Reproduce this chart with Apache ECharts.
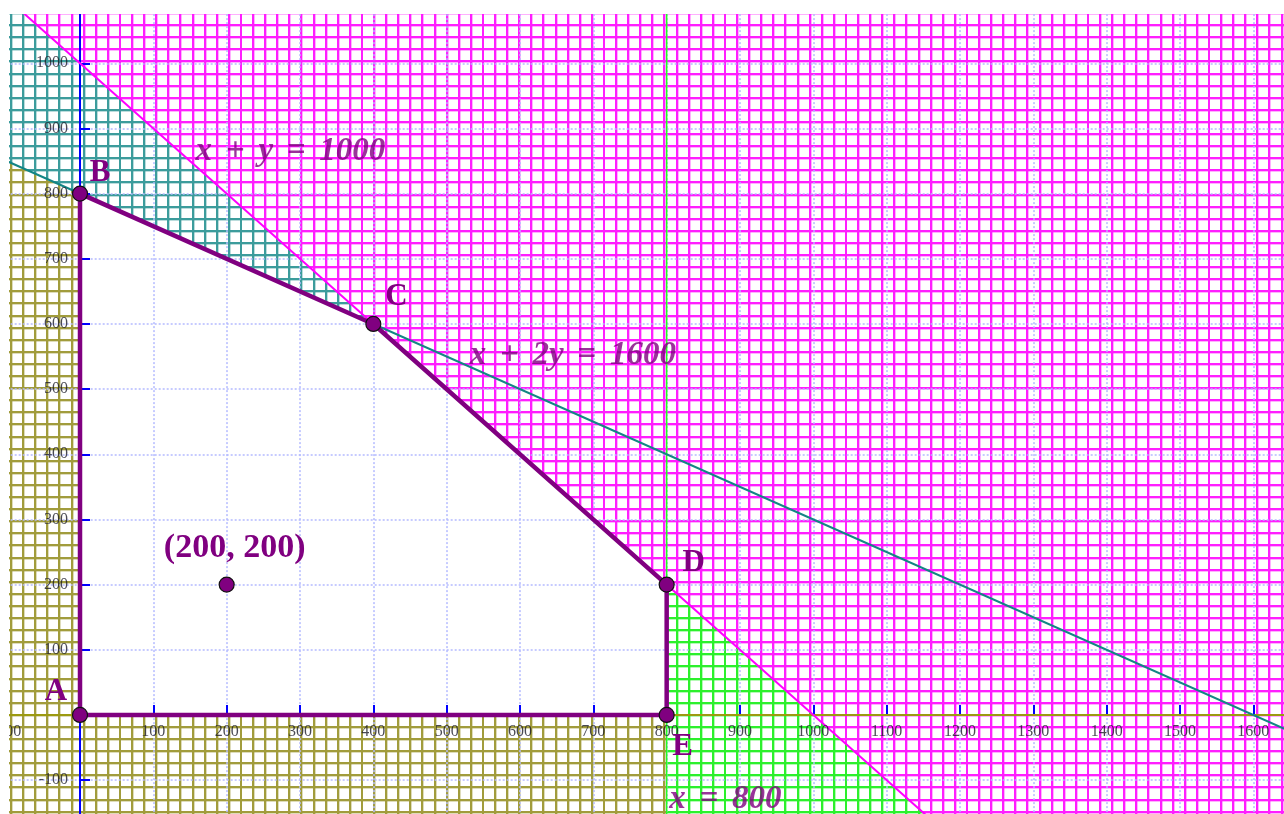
<!DOCTYPE html>
<html>
<head>
<meta charset="utf-8">
<title>Feasible region</title>
<script src="https://cdn.jsdelivr.net/npm/echarts/dist/echarts.min.js"></script>
<style>
  html, body { margin: 0; padding: 0; background: #fff; }
  #chart { width: 1284px; height: 814px; }
</style>
</head>
<body>
<div id="chart"></div>
<script>
  // tick labels shown on the axes (0 is left out, like the original)
  const xTicks = [-100, 100, 200, 300, 400, 500, 600, 700, 800, 900, 1000, 1100, 1200, 1300, 1400, 1500, 1600];
  const yTicks = [-100, 100, 200, 300, 400, 500, 600, 700, 800, 900, 1000];

  // corners of the feasible region
  const vertexNames = ['A', 'B', 'C', 'D', 'E'];
  const vertices = [[0, 0], [0, 800], [400, 600], [800, 200], [800, 0]];
  const testPoint = [200, 200];

  // constraint lines (two end points each)
  const lineXY1000 = [[-100, 1100], [1200, -200]];   // x + y = 1000
  const lineX2Y1600 = [[-100, 850], [1700, -50]];    // x + 2y = 1600
  const lineX800 = [[800, -200], [800, 1100]];       // x = 800
  const lineY0 = [[-100, 0], [1700, 0]];             // y = 0

  // shaded (not allowed) half planes
  const regionOlive = [[-100, -200], [1700, -200], [1700, 0], [0, 0], [0, 1100], [-100, 1100]]; // x < 0 or y < 0
  const regionTeal = [[-100, 850], [1700, -50], [1700, 1100], [-100, 1100]];                    // x + 2y > 1600
  const regionGreen = [[800, -200], [1700, -200], [1700, 1100], [800, 1100]];                   // x > 800
  const regionPink = [[-100, 1100], [1700, 1100], [1700, -200], [1200, -200]];                  // x + y > 1000

  const equationNames = ['x + y = 1000', 'x + 2y = 1600', 'x = 800'];

  // ---- styling / placement ----
  const purple = '#800080';
  const labelAnchors = [[287, 864], [672, 551], [880, -129]];
  const vertexLabelOffsets = [[-24, -23], [20, -21], [23, -27], [27, -22], [16, 32]];
  const testLabelOffset = [8, -36];
  // a little wider gaps between the terms of the equations
  const gap = ' \u2006';

  // cross hatch tile, 12.1px pitch, white background
  const hatch = (color) => {
    const c = document.createElement('canvas');
    c.width = 121;
    c.height = 121;
    const g = c.getContext('2d');
    g.fillStyle = '#fff';
    g.fillRect(0, 0, 121, 121);
    for (let k = 0; k < 10; k++) {
      const p = Math.round(12.1 * k);
      const vx = (p + 10) % 121;
      const hy = (p + 12) % 121;
      g.fillStyle = color;
      g.fillRect(vx, 0, 2, 121);
      g.fillRect(0, hy, 121, 2);
      g.globalAlpha = 0.35;
      g.fillRect(vx + 2, 0, 1, 121);
      g.fillRect(0, hy + 2, 121, 1);
      g.globalAlpha = 1;
    }
    return { image: c, repeat: 'repeat' };
  };

  const regions = [
    { pts: regionOlive, fill: hatch('#a19c3c') },
    { pts: regionTeal, fill: hatch('#3c9c9c') },
    { pts: regionGreen, fill: hatch('#2cf02c') },
    { pts: regionPink, fill: hatch('#ff1eff') }
  ];

  const thinLine = (name, data, color, width) => ({
    name: name,
    type: 'line',
    data: data,
    symbol: 'none',
    silent: true,
    z: 3,
    lineStyle: { color: color, width: width },
    animation: false
  });

  const chart = echarts.init(document.getElementById('chart'), null, { renderer: 'canvas' });

  const serif = 'Liberation Serif, Times New Roman, serif';
  const tickFont = { color: '#1c1c28', fontFamily: serif, fontSize: 16 };

  chart.setOption({
    backgroundColor: '#fff',
    animation: false,
    grid: {
      left: 6.67,
      top: -1.9,
      width: 1320,
      height: 847.2,
      containLabel: false,
      outerBoundsMode: 'none'
    },
    xAxis: {
      type: 'value',
      min: -100,
      max: 1700,
      interval: 100,
      axisLine: { onZero: true, lineStyle: { color: '#999900', width: 2 } },
      axisTick: { show: true, inside: true, length: 10, lineStyle: { color: '#0000ff', width: 2 } },
      axisLabel: { show: false },
      splitLine: { show: true, lineStyle: { color: '#b4bbff', width: 1.5, type: [2, 2] } }
    },
    yAxis: {
      type: 'value',
      min: -200,
      max: 1100,
      interval: 100,
      axisLine: { onZero: true, lineStyle: { color: '#0000ff', width: 2 } },
      axisTick: { show: true, inside: true, length: 10, lineStyle: { color: '#0000ff', width: 2 } },
      axisLabel: { show: false },
      splitLine: { show: true, lineStyle: { color: '#b4bbff', width: 1.5, type: [2, 2] } }
    },
    graphic: [
      // white page margins round the plot
      { type: 'rect', z: 100, shape: { x: 0, y: 0, width: 1284, height: 14 }, style: { fill: '#fff' } },
      { type: 'rect', z: 100, shape: { x: 0, y: 0, width: 9, height: 814 }, style: { fill: '#fff' } }
    ],
    series: [
      {
        name: 'shading',
        type: 'custom',
        z: -1,
        silent: true,
        data: regions.map((r, i) => [i]),
        encode: { x: 0 },
        renderItem: (params, api) => {
          const reg = regions[params.dataIndex];
          return {
            type: 'polygon',
            z2: params.dataIndex,
            shape: { points: reg.pts.map((p) => api.coord(p)) },
            style: { fill: reg.fill, stroke: null }
          };
        }
      },
      thinLine('y = 0', lineY0, '#9c9a10', 2),
      thinLine('x = 800', lineX800, '#22ff22', 1.5),
      thinLine('x + 2y = 1600', lineX2Y1600, '#138585', 2),
      thinLine('x + y = 1000', lineXY1000, '#ff00ff', 2),
      // tick labels sit next to the axes through the origin
      {
        name: 'xTickLabels',
        type: 'scatter',
        z: 4,
        silent: true,
        symbolSize: 0,
        label: Object.assign({ show: true, position: 'inside', offset: [0, 17], formatter: (p) => String(p.value[0]) }, tickFont),
        data: xTicks.map((v) => [v, 0])
      },
      {
        name: 'yTickLabels',
        type: 'scatter',
        z: 4,
        silent: true,
        symbolSize: 0,
        label: Object.assign({ show: true, position: 'left', distance: 12, formatter: (p) => String(p.value[1]) }, tickFont),
        data: yTicks.map((v) => [0, v])
      },
      {
        name: 'feasible',
        type: 'line',
        data: vertices.concat([vertices[0]]),
        symbol: 'none',
        z: 5,
        lineStyle: { color: purple, width: 4.5 }
      },
      {
        name: 'points',
        type: 'scatter',
        z: 6,
        symbolSize: 15,
        itemStyle: { color: purple, borderColor: '#111', borderWidth: 1.2, opacity: 1 },
        label: {
          show: true,
          position: 'inside',
          color: purple,
          fontFamily: serif,
          fontWeight: 'bold',
          fontSize: 31
        },
        data: vertices.map((v, i) => ({
          value: v,
          label: { formatter: vertexNames[i], offset: vertexLabelOffsets[i] }
        })).concat([{
          value: testPoint,
          label: { formatter: '(' + testPoint[0] + ', ' + testPoint[1] + ')', offset: testLabelOffset, fontSize: 34 }
        }])
      },
      {
        name: 'equations',
        type: 'scatter',
        z: 6,
        symbolSize: 0,
        silent: true,
        label: {
          show: true,
          position: 'inside',
          color: purple,
          fontFamily: serif,
          fontWeight: 'bold',
          fontStyle: 'italic',
          fontSize: 33
        },
        data: labelAnchors.map((p, i) => ({ value: p, label: { formatter: equationNames[i].split(' ').join(gap) } }))
      }
    ]
  });

  window.onresize = function () {
    chart.resize();
  };
</script>
</body>
</html>
